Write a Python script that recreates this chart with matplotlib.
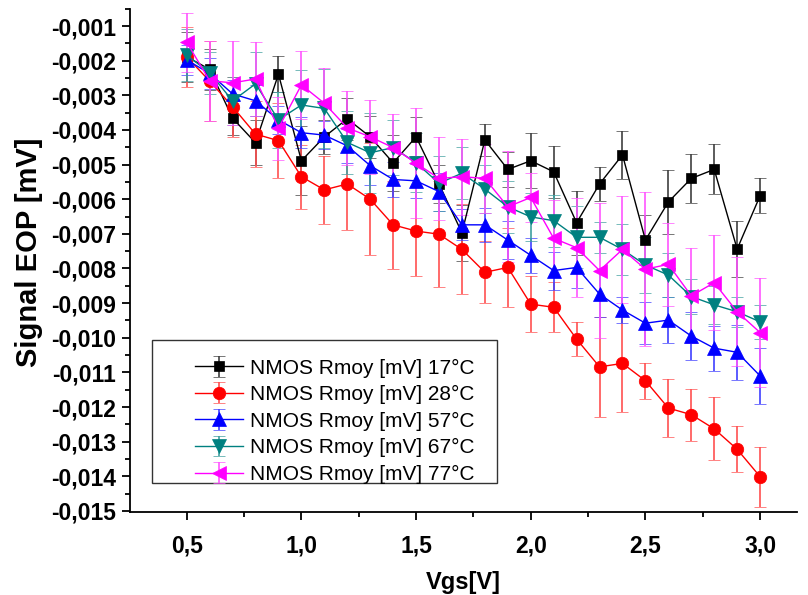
import matplotlib
matplotlib.use("Agg")
import matplotlib.pyplot as plt
from matplotlib.ticker import MultipleLocator, FuncFormatter
from matplotlib.patches import Rectangle
import numpy as np

plt.rcParams['font.family'] = ['Liberation Sans', 'DejaVu Sans']

vgs = [0.5, 0.6, 0.7, 0.8, 0.9, 1.0, 1.1, 1.2, 1.3, 1.4, 1.5, 1.6, 1.7,
       1.8, 1.9, 2.0, 2.1, 2.2, 2.3, 2.4, 2.5, 2.6, 2.7, 2.8, 2.9, 3.0]

labels = ["NMOS Rmoy [mV] 17°C", "NMOS Rmoy [mV] 28°C", "NMOS Rmoy [mV] 57°C",
          "NMOS Rmoy [mV] 67°C", "NMOS Rmoy [mV] 77°C"]

t17 = [-0.00189, -0.00225, -0.00366, -0.00437, -0.00239, -0.00489, -0.00420, -0.00368,
       -0.00420, -0.00495, -0.00420, -0.00556, -0.00697, -0.00429, -0.00514, -0.00489,
       -0.00521, -0.00668, -0.00556, -0.00472, -0.00718, -0.00608, -0.00540, -0.00514,
       -0.00744, -0.00590]
e17 = [0.00072, 0.00060, 0.00050, 0.00065, 0.00052, 0.00100, 0.00050, 0.00060,
       0.00060, 0.00080, 0.00056, 0.00055, 0.00080, 0.00046, 0.00050, 0.00080,
       0.00075, 0.00093, 0.00050, 0.00070, 0.00073, 0.00093, 0.00070, 0.00072,
       0.00080, 0.00050]

t28 = [-0.00189, -0.00259, -0.00333, -0.00412, -0.00431, -0.00535, -0.00573, -0.00556,
       -0.00600, -0.00674, -0.00692, -0.00701, -0.00745, -0.00811, -0.00797, -0.00903,
       -0.00912, -0.01004, -0.01084, -0.01074, -0.01124, -0.01203, -0.01222, -0.01263,
       -0.01322, -0.01401]
e28 = [0.00087, 0.00115, 0.00087, 0.00095, 0.00109, 0.00092, 0.00098, 0.00133,
       0.00162, 0.00127, 0.00130, 0.00153, 0.00130, 0.00090, 0.00113, 0.00081,
       0.00072, 0.00049, 0.00144, 0.00141, 0.00052, 0.00084, 0.00075, 0.00091,
       0.00066, 0.00087]

t57 = [-0.00198, -0.00237, -0.00296, -0.00316, -0.00371, -0.00408, -0.00415, -0.00446,
       -0.00503, -0.00543, -0.00547, -0.00578, -0.00674, -0.00674, -0.00718, -0.00762,
       -0.00806, -0.00797, -0.00874, -0.00920, -0.00958, -0.00949, -0.00995, -0.01030,
       -0.01042, -0.01110]
e57 = [0.00042, 0.00045, 0.00040, 0.00045, 0.00040, 0.00045, 0.00040, 0.00050,
       0.00055, 0.00050, 0.00050, 0.00055, 0.00045, 0.00050, 0.00055, 0.00050,
       0.00055, 0.00058, 0.00066, 0.00038, 0.00060, 0.00066, 0.00070, 0.00065,
       0.00080, 0.00080]

t67 = [-0.00184, -0.00235, -0.00316, -0.00267, -0.00371, -0.00328, -0.00338, -0.00436,
       -0.00466, -0.00451, -0.00495, -0.00554, -0.00525, -0.00571, -0.00622, -0.00651,
       -0.00662, -0.00710, -0.00710, -0.00745, -0.00790, -0.00819, -0.00881, -0.00905,
       -0.00925, -0.00954]
e67 = [0.00074, 0.00060, 0.00070, 0.00092, 0.00080, 0.00100, 0.00115, 0.00090,
       0.00116, 0.00080, 0.00085, 0.00080, 0.00075, 0.00070, 0.00075, 0.00070,
       0.00075, 0.00090, 0.00045, 0.00074, 0.00080, 0.00064, 0.00050, 0.00055,
       0.00044, 0.00050]

t77 = [-0.00147, -0.00258, -0.00264, -0.00253, -0.00395, -0.00270, -0.00323, -0.00394,
       -0.00420, -0.00451, -0.00496, -0.00540, -0.00535, -0.00540, -0.00622, -0.00595,
       -0.00713, -0.00740, -0.00806, -0.00745, -0.00802, -0.00788, -0.00879, -0.00841,
       -0.00925, -0.00985]
e77 = [0.00085, 0.00115, 0.00121, 0.00107, 0.00091, 0.00099, 0.00103, 0.00106,
       0.00106, 0.00098, 0.00158, 0.00120, 0.00110, 0.00100, 0.00160, 0.00070,
       0.00110, 0.00143, 0.00194, 0.00155, 0.00223, 0.00120, 0.00137, 0.00137,
       0.00157, 0.00157]

series = [t17, t28, t57, t67, t77]
errors = [e17, e28, e57, e67, e77]
colors = ['#000000', '#FF0000', '#0000FF', '#008080', '#FF00FF']
ecolors = ['#404040', '#FF5050', '#4040FF', '#40A0A0', '#FF55FF']
markers = ['s', 'o', '^', 'v', '<']
msizes = [7.5, 9, 9.5, 9.5, 9.5]

fig = plt.figure(figsize=(8.08, 5.95), dpi=100)
ax = fig.add_axes([0.1609, 0.1395, 0.9864 - 0.1609, 0.9854 - 0.1395])

for y, e, c, ec, m, ms, lab in zip(series, errors, colors, ecolors, markers, msizes, labels):
    ax.errorbar(vgs, y, yerr=e, color=c, ecolor=ec, elinewidth=1.2, capsize=4,
                capthick=1.2, marker=m, markersize=ms, linewidth=1.0,
                markeredgecolor=c, markeredgewidth=0.5, label=lab)

ax.set_xlim(0.2527, 3.161)
ax.set_ylim(-0.01503, -0.0005)

ax.xaxis.set_major_locator(MultipleLocator(0.5))
ax.xaxis.set_minor_locator(MultipleLocator(0.25))
ax.yaxis.set_major_locator(MultipleLocator(0.001))
ax.yaxis.set_minor_locator(MultipleLocator(0.0005))

ax.xaxis.set_major_formatter(FuncFormatter(lambda v, p: f"{v:.1f}".replace('.', ',')))
ax.yaxis.set_major_formatter(FuncFormatter(lambda v, p: f"{v:.3f}".replace('.', ',').replace('\u2212', '-')))

for s in ['top', 'right']:
    ax.spines[s].set_visible(False)
for s in ['left', 'bottom']:
    ax.spines[s].set_linewidth(1.3)

ax.tick_params(which='major', direction='out', length=6, width=1.3, labelsize=16.5)
ax.tick_params(which='minor', direction='out', length=3.5, width=1.3)
ax.tick_params(axis='x', pad=10)
ax.tick_params(axis='y', pad=4)
for lbl in ax.get_xticklabels() + ax.get_yticklabels():
    lbl.set_fontweight('bold')

ax.set_xlabel("Vgs[V]", fontsize=17, fontweight='bold', labelpad=10)
ax.set_ylabel("Signal EOP [mV]", fontsize=21, fontweight='bold', labelpad=2)
ax.yaxis.set_label_coords(-0.13, 0.515)

# legend frame (box larger than its content, as in the reference)
ax.add_patch(Rectangle((0.033, 0.0576), 0.517, 0.2841, transform=ax.transAxes,
                       facecolor='white', edgecolor='#333333', linewidth=1.0,
                       zorder=5))
leg = ax.legend(loc='upper left', bbox_to_anchor=(0.0975, 0.305),
                fontsize=15, frameon=False,
                handlelength=2.3, handletextpad=0.35, labelspacing=0.36,
                borderpad=0, borderaxespad=0)
leg.set_zorder(6)

fig.savefig("out.png", dpi=100)
